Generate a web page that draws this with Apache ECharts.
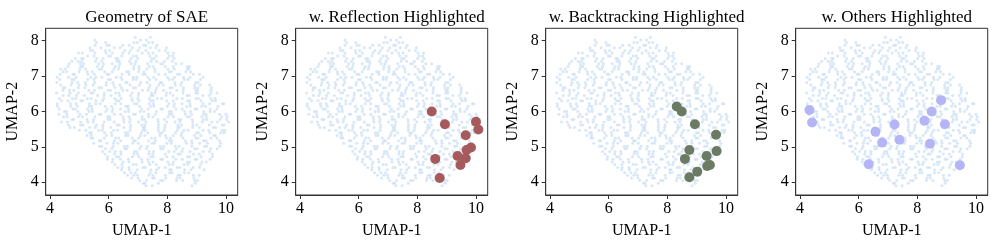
<!DOCTYPE html>
<html><head><meta charset="utf-8">
<script src="https://cdn.jsdelivr.net/npm/echarts@6/dist/echarts.min.js"></script>
<style>html,body{margin:0;padding:0;background:#fff}#c{width:997px;height:248px}</style>
</head><body><div id="c"></div>
<script>
var titles = ["Geometry of SAE", "w. Reflection Highlighted", "w. Backtracking Highlighted", "w. Others Highlighted"];
var xTicks = [4, 6, 8, 10];
var yTicks = [4, 5, 6, 7, 8];
// background cloud (same in every panel): rows of [y, [x...]]
var bgRows = [
 [3.90,[7.27,7.48,8.84]],
 [3.97,[7.18,7.23,7.69,8.95]],
 [4.05,[7.06,7.29,7.77,7.85,8.31,8.53,8.94,9.02]],
 [4.12,[6.78,7.00,7.49,7.56,7.95,8.33,8.44,8.90]],
 [4.20,[6.64,6.86,6.98,7.37,7.50,7.93,8.37,8.44,8.89,9.09]],
 [4.27,[6.54,6.76,6.91,7.42,7.61,8.08,8.16,8.58,8.73]],
 [4.35,[6.44,6.70,6.97,7.44,7.64,8.08,8.13,8.59,8.81,9.25]],
 [4.42,[6.31,6.46,6.69,7.17,7.25,7.71,7.93,8.34,8.42,8.88,9.10]],
 [4.50,[6.21,6.45,6.83,6.94,7.40,7.62,8.06,8.18,8.57,8.70,9.13]],
 [4.57,[6.12,6.49,6.69,7.14,7.36,7.51,8.02,8.21,8.68,8.76,9.18,9.33]],
 [4.65,[5.95,6.14,6.40,6.67,7.12,7.34,7.78,7.83,8.29,8.51,8.95,9.01,9.46]],
 [4.72,[5.96,6.27,6.35,6.81,7.03,7.44,7.52,7.98,8.20,8.69,8.76,9.15,9.53]],
 [4.80,[5.87,6.20,6.42,6.86,6.98,7.37,7.50,7.93,8.37,8.44,8.89,9.09,9.54]],
 [4.87,[5.79,6.03,6.22,6.41,6.88,6.96,7.38,7.53,8.05,8.24,8.50,8.77,9.22,9.44]],
 [4.95,[5.89,6.11,6.55,6.61,7.06,7.29,7.77,7.85,8.31,8.53,8.94,9.02,9.48,9.70]],
 [5.02,[5.69,5.76,6.15,6.53,6.64,7.10,7.32,7.76,7.88,8.27,8.40,8.83,9.27,9.34,9.79]],
 [5.10,[5.49,5.94,6.16,6.31,6.82,7.01,7.48,7.56,7.98,8.13,8.65,8.84,9.10,9.37,9.82]],
 [5.17,[5.68,5.73,6.19,6.41,6.85,6.91,7.36,7.59,8.07,8.15,8.61,8.83,9.24,9.32,9.78]],
 [5.25,[5.39,5.46,5.85,6.23,6.34,6.80,7.02,7.46,7.58,7.97,8.10,8.53,8.97,9.04,9.49,9.69]],
 [5.32,[5.26,5.41,5.92,6.11,6.58,6.66,7.08,7.23,7.75,7.94,8.20,8.47,8.92,9.14,9.58,9.63]],
 [5.40,[5.35,5.41,5.86,6.09,6.57,6.65,7.11,7.33,7.74,7.82,8.28,8.50,8.99,9.06,9.45,9.83,9.94]],
 [5.47,[5.00,5.22,5.66,5.78,6.17,6.30,6.73,7.17,7.24,7.69,7.89,8.34,8.56,8.71,9.22,9.41,9.88,9.96]],
 [5.55,[4.68,4.83,5.35,5.54,5.80,6.07,6.52,6.74,7.18,7.23,7.69,7.91,8.35,8.41,8.86,9.09,9.57,9.65]],
 [5.62,[4.63,5.04,5.12,5.58,5.80,6.29,6.36,6.75,7.13,7.24,7.70,7.92,8.36,8.48,8.87,9.00,9.43,9.87,9.94]],
 [5.70,[4.39,4.59,5.04,5.29,5.47,5.84,6.19,6.52,6.71,7.02,7.27,7.69,7.98,8.26,8.43,8.86,9.19,9.52,9.71,10.09]],
 [5.77,[4.75,4.81,5.26,5.49,5.97,6.05,6.51,6.73,7.14,7.22,7.68,7.90,8.39,8.46,8.85,9.23,9.34,9.80,10.02]],
 [5.85,[4.46,4.58,4.97,5.10,5.53,5.97,6.04,6.49,6.69,7.14,7.36,7.51,8.02,8.21,8.68,8.76,9.18,9.33,9.85,10.04]],
 [5.92,[4.30,4.57,5.02,5.24,5.68,5.73,6.19,6.41,6.85,6.91,7.36,7.59,8.07,8.15,8.61,8.83,9.24,9.32,9.78,10.00]],
 [6.00,[4.49,4.56,4.95,5.33,5.44,5.90,6.12,6.56,6.68,7.07,7.20,7.63,8.07,8.14,8.59,8.79,9.24,9.46,9.61]],
 [6.07,[4.31,4.78,4.86,5.28,5.43,5.95,6.14,6.40,6.67,7.12,7.34,7.78,7.83,8.29,8.51,8.95,9.01,9.46,9.69]],
 [6.15,[4.25,4.71,4.93,5.34,5.42,5.88,6.10,6.59,6.66,7.05,7.43,7.54,8.00,8.22,8.66,8.78,9.17,9.30,9.73]],
 [6.22,[4.24,4.69,4.89,5.34,5.56,5.71,6.22,6.41,6.88,6.96,7.38,7.53,8.05,8.24,8.50,8.77,9.22,9.44,9.88,9.93]],
 [6.30,[4.39,4.61,5.05,5.11,5.56,5.79,6.27,6.35,6.81,7.03,7.44,7.52,7.98,8.20,8.69,8.76,9.15,9.53,9.64]],
 [6.37,[4.32,4.76,4.88,5.27,5.40,5.83,6.21,6.42,6.79,6.99,7.39,7.66,7.81,8.32,8.51,8.98,9.06,9.48,9.63]],
 [6.45,[4.45,4.64,4.90,5.17,5.62,5.84,6.08,6.37,6.74,7.01,7.45,7.51,7.96,8.19,8.67,8.75,9.21,9.43]],
 [6.52,[4.22,4.68,4.96,5.39,5.46,5.85,6.23,6.34,6.80,7.02,7.46,7.58,7.97,8.10,8.53,8.97,9.04,9.49,9.69]],
 [6.60,[4.44,4.66,4.81,5.32,5.51,5.98,6.06,6.48,6.63,7.15,7.34,7.60,7.87,8.32,8.54,8.98,9.03,9.49]],
 [6.67,[4.45,4.51,4.96,5.19,5.67,5.75,6.21,6.43,6.84,6.92,7.38,7.64,8.09,8.16,8.55,8.93,9.04,9.50]],
 [6.75,[4.36,4.72,4.99,5.22,5.47,5.91,6.17,6.38,6.73,7.05,7.41,7.71,7.86,8.27,8.46,8.93,9.13,9.44]],
 [6.82,[4.23,4.75,4.94,5.20,5.52,5.92,6.14,6.58,6.63,7.09,7.31,7.75,7.81,8.26,8.49,8.97,9.05]],
 [6.90,[4.33,4.74,4.82,5.28,5.50,5.99,6.06,6.45,6.83,6.94,7.40,7.62,8.06,8.18,8.57,8.70,9.13]],
 [6.97,[4.24,4.63,4.89,5.39,5.56,5.77,6.26,6.41,6.84,6.96,7.33,7.53,8.01,8.24,8.55,8.77,9.22]],
 [7.05,[4.34,4.78,4.83,5.29,5.51,5.95,6.01,6.46,6.69,7.17,7.25,7.71,7.93,8.34,8.42,8.88,9.10]],
 [7.12,[4.44,4.56,4.99,5.27,5.44,5.86,6.12,6.61,6.68,7.02,7.20,7.58,8.07,8.14,8.63,8.79]],
 [7.20,[4.36,4.51,5.02,5.21,5.68,5.76,6.18,6.33,6.85,7.04,7.30,7.57,8.02,8.24,8.68,8.73]],
 [7.27,[4.61,5.05,5.11,5.61,5.79,6.22,6.35,6.86,7.03,7.39,7.52,7.93,8.20,8.69,8.76]],
 [7.35,[4.65,5.03,5.14,5.66,5.82,6.12,6.38,6.77,6.90,7.33,7.77,7.84,8.29,8.49]],
 [7.42,[4.74,4.96,5.08,5.55,5.76,6.28,6.36,6.71,6.93,7.45,7.64,7.90,8.17]],
 [7.50,[4.86,5.08,5.13,5.59,5.81,6.25,6.31,6.76,6.99,7.47,7.55,8.01,8.23]],
 [7.57,[5.28,5.50,5.99,6.06,6.45,6.83,6.94,7.40,7.62,8.06,8.18]],
 [7.65,[4.97,5.10,5.53,5.91,6.12,6.49,6.69,7.14,7.36,7.51,8.02,8.21]],
 [7.72,[5.38,5.46,5.88,6.03,6.55,6.74,7.00,7.27,7.72,7.94]],
 [7.80,[5.36,5.74,6.19,6.39,6.81,7.06,7.42,7.61,7.97]],
 [7.87,[5.53,5.94,6.02,6.48,6.70,7.19,7.26,7.65]],
 [7.95,[5.58,5.90,6.86,6.98,7.37,7.50]],
 [8.02,[5.53,7.09,7.29]],
 [8.10,[6.91,7.42]]
];
var reflectionX = [8.49, 8.94, 10.0, 10.08, 9.65, 9.83, 9.68, 9.37, 9.65, 9.47, 8.61, 8.76];
var reflectionY = [6.00, 5.64, 5.71, 5.49, 5.33, 4.98, 4.91, 4.74, 4.68, 4.49, 4.66, 4.12];
var backtrackX = [8.32, 8.49, 8.94, 9.66, 8.75, 9.68, 8.60, 9.34, 9.36, 9.45, 9.02, 8.75];
var backtrackY = [6.14, 6.00, 5.64, 5.34, 4.91, 4.88, 4.66, 4.74, 4.46, 4.49, 4.30, 4.14];
var othersX = [4.32, 4.41, 6.34, 6.57, 6.80, 7.22, 7.39, 8.24, 8.49, 8.81, 8.94, 8.43, 9.45];
var othersY = [6.04, 5.69, 4.51, 5.43, 5.12, 5.63, 5.20, 5.74, 6.00, 6.32, 5.64, 5.09, 4.48];

var bg = [];
bgRows.forEach(function (r) { r[1].forEach(function (x) { bg.push([x, r[0]]); }); });
function pairs(xs, ys) { return xs.map(function (x, i) { return [x, ys[i]]; }); }
var highlights = [null, {d: pairs(reflectionX, reflectionY), c: '#a65a5b'},
  {d: pairs(backtrackX, backtrackY), c: '#6b7b63'},
  {d: pairs(othersX, othersY), c: '#b4b4f7'}];

var font = '"Liberation Serif","Times New Roman",serif';
var grids = [], xAxes = [], yAxes = [], series = [], titleOpts = [];
for (var i = 0; i < 4; i++) {
  var left = 45.7 + 250 * i;
  grids.push({left: left, top: 28.3, width: 192, height: 166.7, show: true, borderColor: '#333', borderWidth: 1, backgroundColor: 'transparent'});
  titleOpts.push({text: titles[i], left: left + 96, top: 4, textAlign: 'center',
    textStyle: {fontFamily: font, fontSize: 17, fontWeight: 'normal', color: '#000'}});
  xAxes.push({type: 'value', gridIndex: i, min: 3.85, max: 10.4, name: 'UMAP-1', nameLocation: 'middle', nameGap: 28,
    nameTextStyle: {fontFamily: font, fontSize: 16, color: '#000'},
    axisLine: {show: true, lineStyle: {color: '#333', width: 1}},
    axisTick: {show: true, length: 4, inside: false, customValues: xTicks, lineStyle: {color: '#333'}},
    axisLabel: {customValues: xTicks, margin: 6, fontFamily: font, fontSize: 16, color: '#000'},
    splitLine: {show: false}});
  yAxes.push({type: 'value', gridIndex: i, min: 3.64, max: 8.35, name: 'UMAP-2', nameLocation: 'middle', nameGap: 25,
    nameTextStyle: {fontFamily: font, fontSize: 16, color: '#000'},
    axisLine: {show: true, lineStyle: {color: '#333', width: 1}},
    axisTick: {show: true, length: 4, inside: false, customValues: yTicks, lineStyle: {color: '#333'}},
    axisLabel: {customValues: yTicks, margin: 7, fontFamily: font, fontSize: 16, color: '#000'},
    splitLine: {show: false}});
  series.push({type: 'scatter', xAxisIndex: i, yAxisIndex: i, data: bg, symbolSize: 3,
    itemStyle: {color: '#c8ddf4', opacity: 0.7}, silent: true, animation: false});
  if (highlights[i]) {
    series.push({type: 'scatter', xAxisIndex: i, yAxisIndex: i, data: highlights[i].d, symbolSize: 10,
      itemStyle: {color: highlights[i].c, opacity: 1}, silent: true, animation: false});
  }
}
var chart = echarts.init(document.getElementById('c'), null, {renderer: 'canvas'});
chart.setOption({animation: false, title: titleOpts, grid: grids, xAxis: xAxes, yAxis: yAxes, series: series});
</script></body></html>
